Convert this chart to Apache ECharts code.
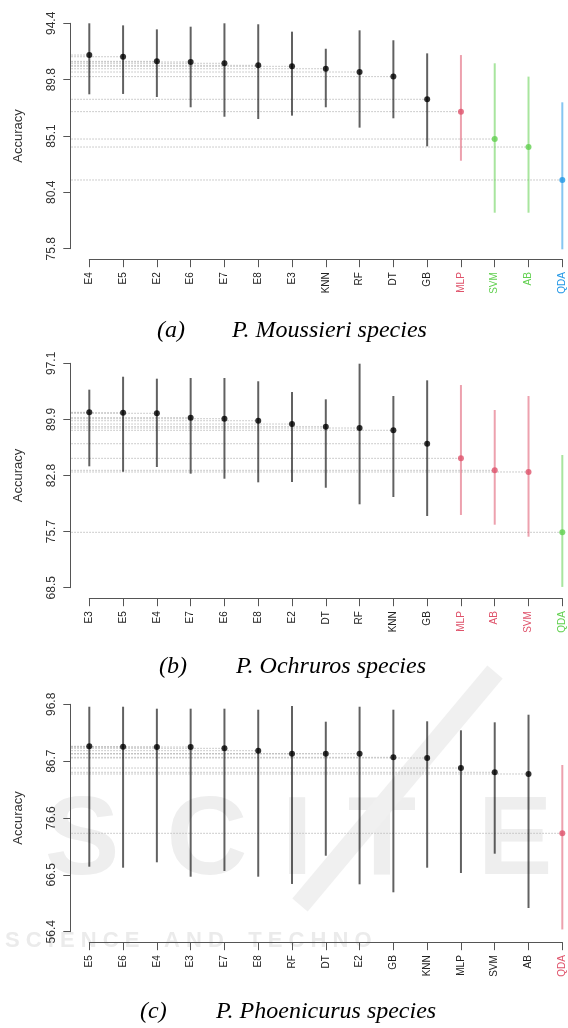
<!DOCTYPE html>
<html><head><meta charset="utf-8">
<script src="https://cdn.jsdelivr.net/npm/echarts@6/dist/echarts.min.js"></script>
<style>html,body{margin:0;padding:0;background:#fff}#c{width:568px;height:1028px}</style>
</head><body><div id="c"></div>
<script>
// ---- data ----
const palette = ['#000000', '#DF536B', '#61D04F', '#2297E6'];

const catsA = ['E4','E5','E2','E6','E7','E8','E3','KNN','RF','DT','GB','MLP','SVM','AB','QDA'];
const meanA = [91.78, 91.64, 91.26, 91.21, 91.10, 90.93, 90.85, 90.65, 90.38, 90.00, 88.13, 87.11, 84.85, 84.19, 81.47];
const lowA  = [88.54, 88.57, 88.32, 87.47, 86.69, 86.50, 86.78, 87.47, 85.79, 86.56, 84.25, 83.06, 78.77, 78.77, 75.75];
const highA = [94.40, 94.23, 93.90, 94.12, 94.40, 94.32, 93.71, 92.30, 93.82, 93.00, 91.92, 91.78, 91.10, 90.00, 87.88];
const groupA = [0,0,0,0,0,0,0,0,0,0,0,1,2,2,3];
const ticksA = [75.8, 80.45, 85.1, 89.75, 94.4];
const tickLabelsA = ['75.8','80.4','85.1','89.8','94.4'];

const catsB = ['E3','E5','E4','E7','E6','E8','E2','DT','RF','KNN','GB','MLP','AB','SVM','QDA'];
const meanB = [90.85, 90.80, 90.73, 90.17, 90.04, 89.78, 89.36, 89.02, 88.85, 88.56, 86.85, 84.99, 83.46, 83.25, 75.56];
const lowB  = [83.97, 83.28, 83.88, 83.03, 82.39, 81.93, 81.97, 81.24, 79.13, 80.06, 77.64, 77.77, 76.53, 75.00, 68.60];
const highB = [93.74, 95.39, 95.14, 95.23, 95.23, 94.81, 93.44, 92.51, 97.05, 92.93, 94.93, 94.33, 91.15, 92.93, 85.41];
const groupB = [0,0,0,0,0,0,0,0,0,0,0,1,1,1,2];
const ticksB = [68.5, 75.65, 82.8, 89.95, 97.1];
const tickLabelsB = ['68.5','75.7','82.8','89.9','97.1'];

const catsC = ['E5','E6','E4','E3','E7','E8','RF','DT','E2','GB','KNN','MLP','SVM','AB','QDA'];
const meanC = [89.34, 89.27, 89.21, 89.21, 88.98, 88.56, 88.02, 88.02, 88.02, 87.38, 87.26, 85.48, 84.72, 84.42, 73.88];
const lowC  = [67.95, 67.77, 68.73, 66.17, 67.19, 66.17, 64.88, 69.90, 64.82, 63.40, 67.77, 66.83, 70.26, 60.61, 56.80];
const highC = [96.37, 96.37, 96.02, 96.02, 96.02, 95.84, 96.50, 93.71, 96.37, 95.84, 93.78, 92.18, 93.60, 94.95, 86.02];
const groupC = [0,0,0,0,0,0,0,0,0,0,0,0,0,0,1];
const ticksC = [56.4, 66.5, 76.6, 86.7, 96.8];
const tickLabelsC = ['56.4','66.5','76.6','86.7','96.8'];

const captions = [
  ['(a)', 'P. Moussieri species'],
  ['(b)', 'P. Ochruros species'],
  ['(c)', 'P. Phoenicurus species']
];

// ---- layout ----
const panels = [
  {cats:catsA, mean:meanA, low:lowA, high:highA, group:groupA, ticks:ticksA, labels:tickLabelsA, top:23.3, height:225.4, capY:331, capX:[157, 232]},
  {cats:catsB, mean:meanB, low:lowB, high:highB, group:groupB, ticks:ticksB, labels:tickLabelsB, top:363.3, height:224.4, capY:667, capX:[159, 236]},
  {cats:catsC, mean:meanC, low:lowC, high:highC, group:groupC, ticks:ticksC, labels:tickLabelsC, top:704.3, height:227.4, capY:1012, capX:[140, 216]}
];
const GRID_LEFT = 89.3, GRID_RIGHT = 568 - 562.3;
const Y_OFFSET = 19, X_OFFSET = 10.5;
const FONT = '"Liberation Sans", Arial, Helvetica, sans-serif';

function rgba(hex, a) {
  const n = parseInt(hex.slice(1), 16);
  return 'rgba(' + ((n >> 16) & 255) + ',' + ((n >> 8) & 255) + ',' + (n & 255) + ',' + a + ')';
}

const grid = [], xAxis = [], yAxis = [], series = [], graphic = [];

// watermark (faint)
const wm = [['S', 82], ['C', 207], ['I', 297], ['T', 382], ['E', 515]];
wm.forEach(([t, x]) => graphic.push({type:'text', silent:true, z:-100, x:x, y:843,
  style:{text:t, font:'bold 112px ' + FONT, fill:'#eeeeee', align:'center', verticalAlign:'middle'}}));
graphic.push({type:'line', silent:true, z:-100, shape:{x1:495, y1:672, x2:300, y2:905}, style:{stroke:'#f0f0f0', lineWidth:20}});
graphic.push({type:'text', silent:true, z:-100, x:5, y:941,
  style:{text:'S C I E N C E    A N D    T E C H N O', font:'bold 22px ' + FONT, fill:'#ebebeb', align:'left', verticalAlign:'middle'}});

panels.forEach((p, k) => {
  grid.push({left:GRID_LEFT, right:GRID_RIGHT, top:p.top, height:p.height, outerBoundsMode:'none', containLabel:false});
  xAxis.push({
    type:'category', gridIndex:k, boundaryGap:false, offset:X_OFFSET,
    data: p.cats.map((c, i) => ({value:c, textStyle:{color: p.group[i] === 0 ? '#222' : palette[p.group[i]]}})),
    axisLine:{show:true, lineStyle:{color:'#555', width:1}},
    axisTick:{show:true, length:8, interval:0, lineStyle:{color:'#555', width:1}},
    axisLabel:{show:true, interval:0, rotate:90, margin:13, fontSize:10, fontFamily:FONT},
    splitLine:{show:false}
  });
  const ticks = p.ticks, labels = p.labels;
  yAxis.push({
    type:'value', gridIndex:k, min:ticks[0], max:ticks[ticks.length - 1], offset:Y_OFFSET,
    axisLine:{show:true, lineStyle:{color:'#555', width:1}},
    axisTick:{show:true, length:7, customValues:ticks, lineStyle:{color:'#555', width:1}},
    axisLabel:{show:true, customValues:ticks, rotate:90, margin:13, fontSize:12, color:'#333', fontFamily:FONT,
      formatter: v => { const j = ticks.findIndex(t => Math.abs(t - v) < 1e-6); return j >= 0 ? labels[j] : ''; }},
    splitLine:{show:false},
    name:'Accuracy', nameLocation:'middle', nameGap:45, nameMoveOverlap:false,
    nameTextStyle:{fontSize:13, color:'#333', fontFamily:FONT}
  });
  // dotted reference lines from y-axis to each point
  series.push({
    type:'custom', xAxisIndex:k, yAxisIndex:k, z:1, silent:true,
    data: p.mean.map((m, i) => [i, m]),
    renderItem: (params, api) => {
      const pt = api.coord([api.value(0), api.value(1)]);
      const x0 = params.coordSys.x - Y_OFFSET + 1;
      return {type:'line', shape:{x1:x0, y1:pt[1], x2:pt[0], y2:pt[1]},
        style:{stroke:'#bdbdbd', lineWidth:1, lineDash:[1.5, 1.5]}};
    }
  });
  // error bars
  series.push({
    type:'custom', xAxisIndex:k, yAxisIndex:k, z:2, silent:true,
    data: p.low.map((l, i) => [i, l, p.high[i], p.group[i]]),
    renderItem: (params, api) => {
      const a = api.coord([api.value(0), api.value(1)]);
      const b = api.coord([api.value(0), api.value(2)]);
      const g = api.value(3);
      return {type:'line', shape:{x1:a[0], y1:a[1], x2:b[0], y2:b[1]},
        style:{stroke: g === 0 ? 'rgba(0,0,0,0.62)' : rgba(palette[g], 0.55), lineWidth:2}};
    }
  });
  // points
  series.push({
    type:'scatter', xAxisIndex:k, yAxisIndex:k, z:3, silent:true, symbol:'circle', symbolSize:6,
    data: p.mean.map((m, i) => ({value:[i, m], itemStyle:{color:palette[p.group[i]]}}))
  });
  // captions
  graphic.push({type:'text', silent:true, x:p.capX[0], y:p.capY,
    style:{text:captions[k][0], font:'italic 24px "Liberation Serif", "Times New Roman", serif', fill:'#000', align:'left', verticalAlign:'middle'}});
  graphic.push({type:'text', silent:true, x:p.capX[1], y:p.capY,
    style:{text:captions[k][1], font:'italic 24px "Liberation Serif", "Times New Roman", serif', fill:'#000', align:'left', verticalAlign:'middle'}});
});

const chart = echarts.init(document.getElementById('c'), null, {renderer:'canvas'});
chart.setOption({animation:false, backgroundColor:'#fff', grid, xAxis, yAxis, series, graphic});
</script></body></html>
